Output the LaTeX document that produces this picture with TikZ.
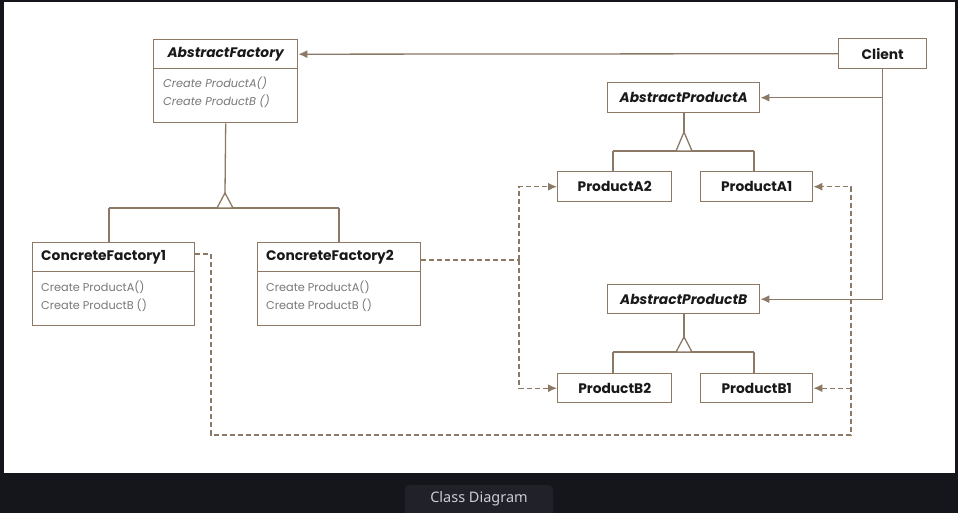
\documentclass[tikz,border=0pt]{standalone}
\usepackage{fontspec}
\setmainfont{Poppins}
\newfontfamily\capfont{Noto Sans}
\usetikzlibrary{arrows.meta}
\definecolor{brn}{RGB}{139,121,101}
\definecolor{darkbg}{RGB}{21,22,28}
\definecolor{capbg}{RGB}{32,33,41}
\definecolor{captxt}{RGB}{205,206,210}
\definecolor{methgray}{RGB}{120,120,120}
\definecolor{ttl}{RGB}{25,25,25}
\tikzset{
  hdr/.style={draw=brn, line width=1.4pt, fill=white, inner sep=0pt, anchor=north west,
    font=\fontsize{13.8}{15}\selectfont\bfseries, text=ttl},
  bdy/.style={draw=brn, line width=1.4pt, fill=white, inner sep=0pt, anchor=north west},
  meth/.style={inner sep=0pt, anchor=west, font=\fontsize{11.3}{13}\selectfont, text=methgray},
  ln/.style={draw=brn, line width=1.3pt},
  arr/.style={ln, -{Latex[length=9pt,width=8pt]}},
  dsh/.style={ln, dash pattern=on 5pt off 3pt},
  darr/.style={dsh, -{Latex[length=9pt,width=8pt]}},
  tri/.style={draw=brn, line width=1.3pt, fill=white},
}
\begin{document}
\begin{tikzpicture}[x=1pt,y=-1pt]
\useasboundingbox (0,0) rectangle (958,513);
\fill[darkbg] (0,0) rectangle (958,513);
\fill[white] (4,2) rectangle (955,473);

% AbstractFactory
\node[hdr, minimum width=144pt, minimum height=29pt] (afT) at (153,39) {\itshape AbstractFactory};
\node[bdy, minimum width=144pt, minimum height=54pt] (afB) at (153,68) {};
\node[meth, font=\fontsize{11.3}{13}\selectfont\itshape] (af1) at (163,83) {Create ProductA()};
\node[meth, font=\fontsize{11.3}{13}\selectfont\itshape] (af2) at (163,101) {Create ProductB ()};

% ConcreteFactory1
\node[hdr, minimum width=162pt, minimum height=29pt, text width=145pt, align=left] (cf1T) at (32,242) {ConcreteFactory1};
\node[bdy, minimum width=162pt, minimum height=54pt] (cf1B) at (32,271) {};
\node[meth] (cf1a) at (41,287) {Create ProductA()};
\node[meth] (cf1b) at (41,305) {Create ProductB ()};

% ConcreteFactory2
\node[hdr, minimum width=163pt, minimum height=29pt, text width=146pt, align=left] (cf2T) at (257,242) {ConcreteFactory2};
\node[bdy, minimum width=163pt, minimum height=54pt] (cf2B) at (257,271) {};
\node[meth] (cf2a) at (266,287) {Create ProductA()};
\node[meth] (cf2b) at (266,305) {Create ProductB ()};

% Client
\node[hdr, minimum width=88pt, minimum height=30pt] (client) at (838,38) {Client};

% Abstract products
\node[hdr, minimum width=152pt, minimum height=30pt] (apa) at (607,82) {\itshape AbstractProductA};
\node[hdr, minimum width=152pt, minimum height=29pt] (apb) at (607,284) {\itshape AbstractProductB};

% Products
\node[hdr, minimum width=114pt, minimum height=30pt] (pa2) at (557,171) {ProductA2};
\node[hdr, minimum width=112pt, minimum height=30pt] (pa1) at (700,171) {ProductA1};
\node[hdr, minimum width=114pt, minimum height=29pt] (pb2) at (557,373) {ProductB2};
\node[hdr, minimum width=112pt, minimum height=29pt] (pb1) at (700,373) {ProductB1};

% Client associations
\draw[arr] (client.west) -- (afT.east);
\draw[arr] (client.south) |- (apb.east);
\draw[arr] (client.south |- apa.east) -- (apa.east);

% Inheritance: factories
\coordinate (fA) at (225,193);
\coordinate (fL) at (109,208);
\coordinate (fR) at (339,208);
\draw[ln] (afB.south) -- (fA);
\draw[ln] (fL) -- (fR);
\draw[ln] (fL) -- (fL |- cf1T.north);
\draw[ln] (fR) -- (fR |- cf2T.north);
\draw[tri] (fA) -- (217,208) -- (233,208) -- cycle;

% Inheritance: product A
\coordinate (aA) at (684,132);
\coordinate (aL) at (613,151);
\coordinate (aR) at (754,151);
\draw[ln] (apa.south -| aA) -- (aA);
\draw[ln] (aL) -- (aR);
\draw[ln] (aL) -- (aL |- pa2.north);
\draw[ln] (aR) -- (aR |- pa1.north);
\draw[tri] (aA) -- (676,151) -- (692,151) -- cycle;

% Inheritance: product B
\coordinate (bA) at (684,337);
\coordinate (bL) at (613,352);
\coordinate (bR) at (754,352);
\draw[ln] (apb.south -| bA) -- (bA);
\draw[ln] (bL) -- (bR);
\draw[ln] (bL) -- (bL |- pb2.north);
\draw[ln] (bR) -- (bR |- pb1.north);
\draw[tri] (bA) -- (676,352) -- (692,352) -- cycle;

% Dependencies (dashed)
\coordinate (j2) at (519,260);
\draw[dsh] (cf2T.east |- j2) -- (j2);
\draw[darr] (j2) |- (pa2.west);
\draw[darr] (j2) |- (pb2.west);
\coordinate (j1) at (211,254);
\coordinate (j3) at (851,435);
\draw[darr] (cf1T.east |- j1) -- (j1) |- (j3) |- (pa1.east);
\draw[darr] (j3 |- pb1.east) -- (pb1.east);

% Caption
\node[fill=capbg, rounded corners=4pt, minimum width=148pt, minimum height=32pt, anchor=north, inner sep=0pt] (capbox) at (479,485) {};
\node[font=\capfont\fontsize{14.5}{16}\selectfont, text=captxt, inner sep=0pt] (captext) at (479,499) {Class Diagram};
\end{tikzpicture}
\end{document}
